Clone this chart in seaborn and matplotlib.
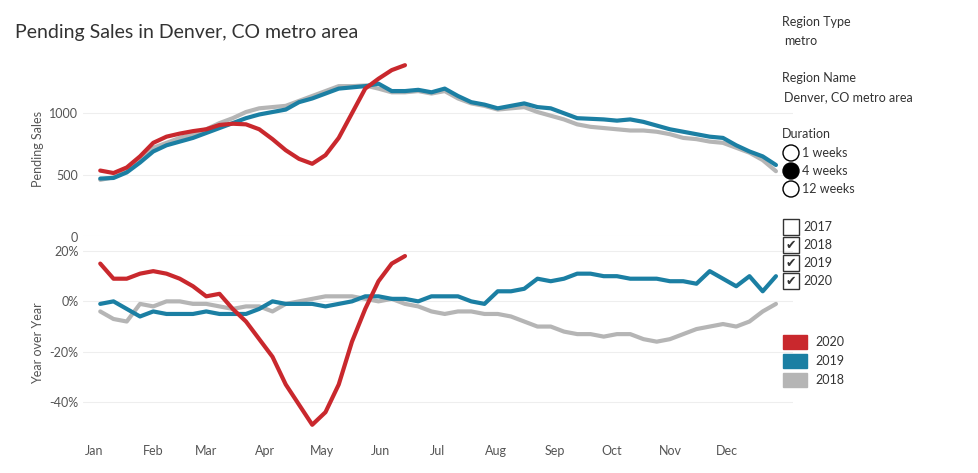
import numpy as np
import pandas as pd
import seaborn as sns
import matplotlib.pyplot as plt
from matplotlib.patches import Rectangle, Ellipse

sales_2020 = [535, 515, 560, 650, 760, 810, 835, 855, 870, 905, 915, 910, 870, 790, 700, 630,
              590, 660, 800, 1000, 1200, 1280, 1350, 1390]
sales_2019 = [470, 475, 520, 600, 690, 740, 770, 800, 840, 880, 920, 960, 990, 1010, 1030, 1090,
              1120, 1160, 1200, 1210, 1220, 1240, 1180, 1180, 1190, 1170, 1200, 1140, 1090, 1070,
              1040, 1060, 1080, 1050, 1040, 1000, 960, 955, 950, 940, 950, 930, 900, 870, 850,
              830, 810, 800, 740, 690, 650, 580]
sales_2018 = [460, 480, 530, 620, 720, 760, 800, 830, 870, 920, 960, 1010, 1040, 1050, 1060, 1100,
              1140, 1180, 1220, 1220, 1225, 1200, 1170, 1170, 1180, 1160, 1180, 1120, 1080, 1060,
              1030, 1040, 1050, 1010, 980, 950, 910, 890, 880, 870, 860, 860, 850, 830, 800, 790,
              770, 760, 720, 680, 620, 530]
yoy_2020 = [15, 9, 9, 11, 12, 11, 9, 6, 2, 3, -3, -8, -15, -22, -33, -41, -49, -44, -33, -16,
            -3, 8, 15, 18]
yoy_2019 = [-1, 0, -3, -6, -4, -5, -5, -5, -4, -5, -5, -5, -3, 0, -1, -1, -1, -2, -1, 0, 2, 2,
            1, 1, 0, 2, 2, 2, 0, -1, 4, 4, 5, 9, 8, 9, 11, 11, 10, 10, 9, 9, 9, 8, 8, 7, 12, 9,
            6, 10, 4, 10]
yoy_2018 = [-4, -7, -8, -1, -2, 0, 0, -1, -1, -2, -3, -2, -2, -4, -1, 0, 1, 2, 2, 2, 1, 0, 1,
            -1, -2, -4, -5, -4, -4, -5, -5, -6, -8, -10, -10, -12, -13, -13, -14, -13, -13, -15,
            -16, -15, -13, -11, -10, -9, -10, -8, -4, -1]
months = ['Jan', 'Feb', 'Mar', 'Apr', 'May', 'Jun', 'Jul', 'Aug', 'Sep', 'Oct', 'Nov', 'Dec']
month_days = [1, 32, 60, 91, 121, 152, 182, 213, 244, 274, 305, 335]

colors = {'2020': '#c9282d', '2019': '#1b7fa3', '2018': '#b5b5b5'}

rows = []
for yr, s, y in [('2018', sales_2018, yoy_2018), ('2019', sales_2019, yoy_2019),
                 ('2020', sales_2020, yoy_2020)]:
    for i, (a, b) in enumerate(zip(s, y)):
        rows.append({'year': yr, 'day': 4 + 7 * i, 'sales': a, 'yoy': b})
df = pd.DataFrame(rows)

sns.set_style('white')
plt.rcParams['font.family'] = ['Lato', 'DejaVu Sans']
fig = plt.figure(figsize=(9.79, 4.73), dpi=100)
ax1 = fig.add_axes([0.085, 0.50, 0.725, 0.37])
ax2 = fig.add_axes([0.085, 0.07, 0.725, 0.41])

for ax, col in [(ax1, 'sales'), (ax2, 'yoy')]:
    sns.lineplot(data=df, x='day', y=col, hue='year', palette=colors, linewidth=3,
                 legend=False, ax=ax)
    ax.set_xlim(-5, 370)
    ax.set_xlabel('')
    for s in ax.spines.values():
        s.set_visible(False)
    ax.tick_params(length=0, labelsize=9, colors='#555555')
    ax.grid(axis='y', color='#eeeeee', linewidth=0.8)

ax1.set_ylim(0, 1420)
ax1.set_yticks([0, 500, 1000])
ax1.set_xticks([])
ax1.set_ylabel('Pending Sales', fontsize=9, color='#555555')
ax2.set_ylim(-55, 22)
ax2.set_yticks([-40, -20, 0, 20])
ax2.set_yticklabels(['-40%', '-20%', '0%', '20%'])
ax2.set_xticks(month_days)
ax2.set_xticklabels(months)
ax2.set_ylabel('Year over Year', fontsize=9, color='#555555')

fig.text(0.015, 0.92, 'Pending Sales in Denver, CO metro area', fontsize=14, color='#333333')

def t(x, y, s, **kw):
    fig.text(x / 979, 1 - y / 473, s, fontsize=9, color='#333333', va='center', **kw)

t(782, 22, 'Region Type')
t(784, 41, 'metro')
t(782, 78, 'Region Name')
t(784, 97, 'Denver, CO metro area')
t(782, 134, 'Duration')
for i, lab in enumerate(['1 weeks', '4 weeks', '12 weeks']):
    yy = 153 + 18 * i
    fig.patches.append(Ellipse((791 / 979, 1 - yy / 473), 16 / 979, 16 / 473,
                               transform=fig.transFigure, fill=(i == 1), facecolor='black',
                               edgecolor='black', lw=1))
    t(802, yy, lab)
for i, lab in enumerate(['2017', '2018', '2019', '2020']):
    yy = 227 + 18 * i
    fig.patches.append(Rectangle((783 / 979, 1 - (yy + 8) / 473), 16 / 979, 16 / 473,
                                 transform=fig.transFigure, fill=False, edgecolor='#333333', lw=1))
    if i > 0:
        t(786, yy, '✔')
    t(803, yy, lab)
for i, lab in enumerate(['2020', '2019', '2018']):
    yy = 342 + 19 * i
    fig.patches.append(Rectangle((783 / 979, 1 - (yy + 7) / 473), 24 / 979, 14 / 473,
                                 transform=fig.transFigure, color=colors[lab]))
    t(815, yy, lab)

fig.savefig('out.png', dpi=100)
